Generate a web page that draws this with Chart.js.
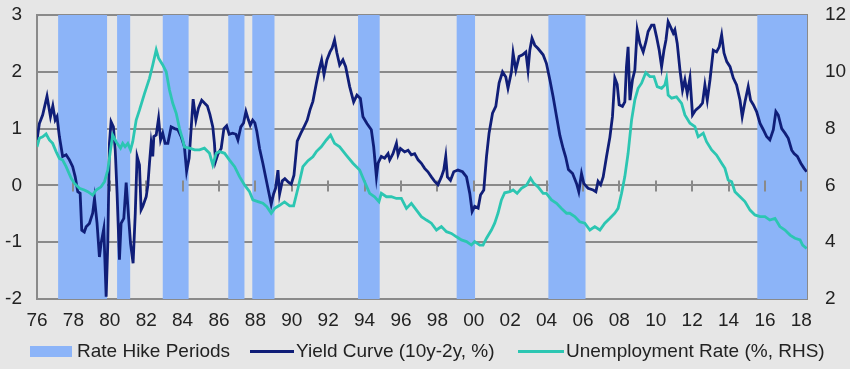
<!DOCTYPE html>
<html>
<head>
<meta charset="utf-8">
<script src="https://cdn.jsdelivr.net/npm/chart.js@4/dist/chart.umd.min.js"></script>
<style>
  html, body { margin: 0; padding: 0; background: #e6e6e6; }
  #wrap { position: relative; width: 850px; height: 369px; background: #e6e6e6; overflow: hidden; }
  #c { position: absolute; left: 0; top: 0; }
  .lg { position: absolute; font-family: "Liberation Sans", Arial, sans-serif; font-size: 19px; line-height: 22px; color: #222; white-space: nowrap; top: 340px; }
  .sw { position: absolute; }
</style>
</head>
<body>
<div id="wrap">
  <canvas id="c" width="850" height="369"></canvas>
  <div class="sw" style="left:30px;top:346px;width:42px;height:11px;background:#8cb4f8;"></div>
  <div class="lg" style="left:77px;">Rate Hike Periods</div>
  <div class="sw" style="left:250px;top:350px;width:44px;height:3px;background:#101e78;"></div>
  <div class="lg" style="left:296px;">Yield Curve (10y-2y, %)</div>
  <div class="sw" style="left:518px;top:350px;width:46px;height:3px;background:#2cc6b2;"></div>
  <div class="lg" style="left:566px;">Unemployment Rate (%, RHS)</div>
</div>
<script>
// ---- Data (decimal years) ----
const hikeStart = [1977.16, 1980.40, 1982.91, 1986.51, 1987.83, 1993.64, 1999.06, 2004.10, 2015.58];
const hikeEnd   = [1979.85, 1981.12, 1984.33, 1987.40, 1989.05, 1994.83, 2000.07, 2006.14, 2018.31];

const ycDates = [
1976.00,1976.13,1976.31,1976.55,1976.74,1976.87,1977.00,1977.10,1977.23,1977.41,1977.60,1977.78,1977.96,
1978.10,1978.24,1978.37,1978.46,1978.60,1978.70,1978.88,1979.06,1979.16,1979.30,1979.43,1979.52,1979.67,
1979.80,1979.89,1979.98,1980.07,1980.20,1980.30,1980.40,1980.53,1980.62,1980.77,1980.90,1981.03,1981.14,
1981.28,1981.40,1981.50,1981.63,1981.72,1981.81,1982.00,1982.09,1982.18,1982.27,1982.36,1982.42,1982.55,
1982.68,1982.79,1982.91,1983.04,1983.19,1983.37,1983.56,1983.74,1983.92,1984.10,1984.22,1984.36,1984.58,
1984.73,1984.87,1985.05,1985.20,1985.36,1985.50,1985.66,1985.75,1985.81,1985.94,1986.12,1986.27,1986.42,
1986.56,1986.75,1986.93,1987.04,1987.20,1987.35,1987.48,1987.62,1987.72,1987.85,1987.97,1988.08,1988.23,
1988.41,1988.58,1988.74,1988.87,1989.00,1989.11,1989.24,1989.33,1989.48,1989.62,1989.80,1989.97,1990.12,
1990.30,1990.50,1990.70,1990.85,1991.00,1991.16,1991.35,1991.50,1991.64,1991.77,1991.93,1992.10,1992.22,
1992.35,1992.48,1992.63,1992.81,1992.96,1993.18,1993.40,1993.58,1993.77,1993.91,1994.13,1994.37,1994.50,
1994.65,1994.74,1994.92,1995.10,1995.29,1995.38,1995.56,1995.75,1995.84,1995.97,1996.20,1996.39,1996.57,
1996.75,1996.94,1997.12,1997.30,1997.48,1997.67,1997.85,1998.03,1998.22,1998.35,1998.46,1998.55,1998.72,
1998.90,1999.13,1999.38,1999.60,1999.78,1999.91,2000.05,2000.24,2000.37,2000.55,2000.70,2000.84,2001.03,
2001.21,2001.39,2001.58,2001.76,2001.88,2002.07,2002.16,2002.31,2002.49,2002.68,2002.86,2002.98,2003.08,
2003.20,2003.35,2003.53,2003.81,2003.99,2004.18,2004.36,2004.55,2004.73,2004.91,2005.05,2005.20,2005.43,
2005.65,2005.77,2005.92,2006.05,2006.28,2006.56,2006.71,2006.83,2006.97,2007.11,2007.29,2007.48,2007.62,
2007.75,2007.88,2007.99,2008.17,2008.30,2008.39,2008.48,2008.58,2008.72,2008.85,2008.98,2009.13,2009.31,
2009.46,2009.58,2009.77,2009.90,2010.04,2010.19,2010.32,2010.45,2010.56,2010.68,2010.81,2010.96,2011.05,
2011.18,2011.33,2011.47,2011.60,2011.73,2011.88,2012.02,2012.20,2012.42,2012.57,2012.70,2012.83,2012.98,
2013.16,2013.34,2013.49,2013.62,2013.75,2013.90,2014.08,2014.26,2014.44,2014.63,2014.75,2014.90,2015.08,
2015.21,2015.36,2015.54,2015.73,2015.91,2016.09,2016.27,2016.46,2016.60,2016.73,2016.92,2017.10,2017.28,
2017.47,2017.60,2017.78,2017.97,2018.15,2018.29];
const ycValues = [
0.80,1.09,1.24,1.57,1.21,1.40,1.15,1.21,0.86,0.51,0.54,0.45,0.33,
0.15,-0.11,-0.14,-0.79,-0.82,-0.73,-0.67,-0.49,-0.23,-0.67,-1.26,-1.02,-0.76,
-1.96,-1.02,0.74,1.12,1.03,0.62,-0.14,-1.31,-0.67,-0.58,0.05,-0.55,-1.02,
-1.37,-0.49,0.51,0.36,-0.43,-0.37,-0.20,0.00,0.39,0.74,0.51,0.86,0.89,
1.18,0.80,0.92,0.74,0.74,1.03,1.00,0.98,0.86,0.68,0.25,0.48,1.52,
1.15,1.36,1.50,1.45,1.40,1.25,1.03,0.74,0.42,0.55,0.65,1.00,1.05,
0.90,0.92,0.90,0.80,1.03,1.10,1.30,1.15,1.06,1.15,1.10,0.95,0.65,
0.39,0.12,-0.13,-0.33,-0.15,-0.05,0.27,-0.15,0.08,0.12,0.06,0.02,0.18,
0.78,0.92,1.05,1.15,1.33,1.48,1.80,2.03,2.21,1.95,2.21,2.35,2.42,
2.56,2.33,2.12,2.21,2.09,1.74,1.47,1.59,1.53,1.21,1.09,0.98,0.68,
0.15,0.39,0.51,0.48,0.56,0.45,0.56,0.74,0.54,0.65,0.59,0.62,0.54,
0.56,0.45,0.39,0.30,0.24,0.15,0.07,0.01,0.15,0.27,0.51,0.15,0.09,
0.24,0.27,0.24,0.15,-0.14,-0.46,-0.37,-0.40,-0.17,-0.08,0.51,0.92,1.27,
1.39,1.80,2.00,1.91,1.71,2.00,2.33,2.03,2.27,2.30,2.35,2.03,2.38,
2.59,2.47,2.41,2.30,2.15,1.86,1.56,1.21,0.88,0.65,0.50,0.28,0.21,
0.03,-0.11,0.21,0.03,-0.05,-0.08,-0.11,0.07,0.01,0.15,0.50,0.85,1.21,
1.89,1.78,1.42,1.39,1.47,2.09,2.44,1.50,1.86,2.03,2.74,2.50,2.35,
2.53,2.71,2.82,2.82,2.62,2.38,2.09,2.38,2.56,2.88,2.79,2.68,2.74,
2.50,2.03,1.68,1.86,1.62,1.89,1.24,1.33,1.39,1.45,1.77,1.50,1.86,
2.38,2.35,2.44,2.65,2.33,2.18,2.09,1.89,1.77,1.50,1.21,1.47,1.74,
1.50,1.42,1.30,1.09,0.98,0.86,0.80,0.98,1.30,1.24,1.00,0.92,0.83,
0.62,0.56,0.51,0.39,0.30,0.24];

const urDates = [
1976.00,1976.13,1976.31,1976.50,1976.68,1976.86,1977.05,1977.23,1977.41,1977.60,1977.88,1978.06,1978.33,
1978.60,1978.79,1979.06,1979.25,1979.52,1979.71,1979.89,1980.04,1980.16,1980.35,1980.59,1980.71,1980.84,
1980.99,1981.14,1981.26,1981.45,1981.63,1981.91,1982.18,1982.36,1982.55,1982.68,1982.91,1983.10,1983.28,
1983.46,1983.65,1983.83,1984.01,1984.10,1984.38,1984.66,1984.93,1985.20,1985.48,1985.66,1985.85,1986.03,
1986.31,1986.58,1986.86,1987.13,1987.41,1987.68,1987.86,1988.14,1988.41,1988.63,1988.87,1989.06,1989.33,
1989.60,1989.88,1990.10,1990.34,1990.61,1990.89,1991.16,1991.35,1991.62,1991.90,1992.13,1992.35,1992.63,
1992.99,1993.36,1993.73,1994.00,1994.28,1994.55,1994.79,1994.92,1995.20,1995.47,1995.75,1996.02,1996.30,
1996.57,1996.85,1997.12,1997.40,1997.67,1997.95,1998.22,1998.50,1998.77,1999.05,1999.32,1999.60,1999.87,
2000.05,2000.33,2000.51,2000.70,2000.97,2001.15,2001.33,2001.52,2001.70,2001.98,2002.16,2002.38,2002.62,
2002.90,2003.12,2003.30,2003.53,2003.81,2003.99,2004.27,2004.55,2004.82,2005.10,2005.27,2005.55,2005.82,
2006.10,2006.38,2006.65,2006.93,2007.20,2007.48,2007.75,2007.93,2008.12,2008.30,2008.48,2008.67,2008.85,
2009.03,2009.22,2009.45,2009.68,2009.90,2010.08,2010.32,2010.50,2010.59,2010.68,2010.87,2011.14,2011.42,
2011.60,2011.88,2012.15,2012.33,2012.61,2012.79,2013.07,2013.34,2013.62,2013.80,2013.98,2014.17,2014.35,
2014.63,2014.90,2015.18,2015.45,2015.73,2016.00,2016.27,2016.55,2016.82,2017.10,2017.38,2017.65,2017.93,
2018.07,2018.29];
const urValues = [
7.36,7.66,7.71,7.81,7.60,7.48,7.19,6.95,6.89,6.66,6.25,6.07,5.90,
5.84,5.78,5.66,5.84,5.95,6.13,6.54,7.25,7.77,7.54,7.31,7.48,7.36,
7.48,7.25,7.54,8.30,8.65,9.24,9.77,10.24,10.77,10.48,10.24,10.00,9.36,
8.89,8.54,8.00,7.60,7.35,7.31,7.25,7.25,7.31,7.13,6.72,7.13,7.19,
7.13,6.89,6.66,6.31,6.01,5.78,5.49,5.43,5.37,5.25,5.02,5.19,5.30,
5.42,5.28,5.28,5.90,6.66,6.87,7.01,7.19,7.36,7.60,7.77,7.48,7.36,
7.07,6.78,6.54,6.13,5.72,5.60,5.43,5.72,5.60,5.60,5.54,5.54,5.19,
5.37,5.13,4.90,4.78,4.67,4.43,4.55,4.37,4.31,4.19,4.08,4.02,3.90,
4.02,3.90,3.90,4.14,4.43,4.67,5.02,5.49,5.74,5.78,5.84,5.72,5.90,
6.01,6.25,6.07,5.95,5.72,5.72,5.49,5.37,5.19,5.02,5.02,4.90,4.72,
4.67,4.43,4.55,4.43,4.67,4.84,5.02,5.19,5.72,6.31,7.13,8.30,9.01,
9.42,9.60,9.97,9.83,9.83,9.48,9.42,9.54,9.77,9.18,9.07,9.12,8.89,
8.48,8.19,8.07,7.71,7.84,7.54,7.25,7.07,6.78,6.60,6.19,6.13,5.78,
5.60,5.43,5.13,4.96,4.90,4.90,4.78,4.84,4.55,4.43,4.25,4.14,4.08,
3.90,3.78];

// ---- Styles ----
const NAVY = '#101e78', TEAL = '#2cc6b2', HIKE = '#8cb4f8', GRID = '#8a8a8a', TXT = '#222';
const FONT = { family: '"Liberation Sans", Arial, sans-serif', size: 19 };

// ---- Build library data structures ----
const hikePts = [];
hikeStart.forEach((s, i) => {
  hikePts.push({x: s, y: 0}, {x: s, y: 1}, {x: hikeEnd[i], y: 1}, {x: hikeEnd[i], y: 0});
});
const yc = ycDates.map((d, i) => ({x: d, y: ycValues[i]}));
const ur = urDates.map((d, i) => ({x: d, y: urValues[i]}));

const tickMarks = {
  id: 'tickMarks',
  afterDatasetDraw(chart, args) {
    if (args.index !== 0) return;
    const xs = chart.scales.x, ys = chart.scales.y, c = chart.ctx;
    const y0 = ys.getPixelForValue(0);
    c.save();
    c.strokeStyle = GRID; c.lineWidth = 2;
    xs.ticks.forEach(t => {
      if (t.value <= 1976 || Math.abs(t.value % 2) > 1e-6) return;
      const px = Math.round(xs.getPixelForValue(t.value));
      c.beginPath(); c.moveTo(px, y0 - 5); c.lineTo(px, y0 + 6); c.stroke();
    });
    c.restore();
  }
};

function fitY(w) {
  return s => { s.width = w; s.paddingTop = 0; s.paddingBottom = 0; };
}

new Chart(document.getElementById('c'), {
  type: 'line',
  data: {
    datasets: [
      { label: 'Rate Hike Periods', data: hikePts, yAxisID: 'yh', borderWidth: 0, borderColor: 'rgba(0,0,0,0)',
        pointRadius: 0, fill: 'origin', backgroundColor: HIKE, order: 3, tension: 0 },
      { label: 'Yield Curve (10y-2y, %)', data: yc, yAxisID: 'y', borderColor: NAVY, borderWidth: 2.8,
        pointRadius: 0, fill: false, order: 2, tension: 0 },
      { label: 'Unemployment Rate (%, RHS)', data: ur, yAxisID: 'y2', borderColor: TEAL, borderWidth: 2.8,
        pointRadius: 0, fill: false, order: 1, tension: 0 }
    ]
  },
  options: {
    responsive: false, animation: false, devicePixelRatio: 1,
    layout: { padding: { top: 15, left: 0, right: 0, bottom: 0 } },
    plugins: { legend: { display: false }, tooltip: { enabled: false } },
    scales: {
      x: {
        type: 'linear', min: 1976, max: 2018.31,
        afterFit(s) { s.height = 70; s.paddingLeft = 0; s.paddingRight = 0; },
        grid: { display: false, drawTicks: false }, border: { display: false },
        ticks: { stepSize: 2, includeBounds: false, autoSkip: false, maxRotation: 0, padding: 10,
          color: TXT, font: FONT,
          callback: v => (Math.abs(v % 2) < 1e-6 ? String(Math.round(v) % 100).padStart(2, '0') : '') }
      },
      y: {
        position: 'left', min: -2, max: 3,
        afterFit: fitY(37),
        ticks: { stepSize: 1, padding: 15, color: TXT, font: FONT },
        grid: { color: GRID, lineWidth: 2, drawTicks: false },
        border: { display: true, color: GRID, width: 2 }
      },
      y2: {
        position: 'right', min: 2, max: 12,
        afterFit: fitY(43),
        ticks: { stepSize: 2, padding: 18, color: TXT, font: FONT },
        grid: { display: false, drawTicks: false },
        border: { display: true, color: GRID, width: 2 }
      },
      yh: { display: false, min: 0, max: 1 }
    }
  },
  plugins: [tickMarks]
});
</script>
</body>
</html>
